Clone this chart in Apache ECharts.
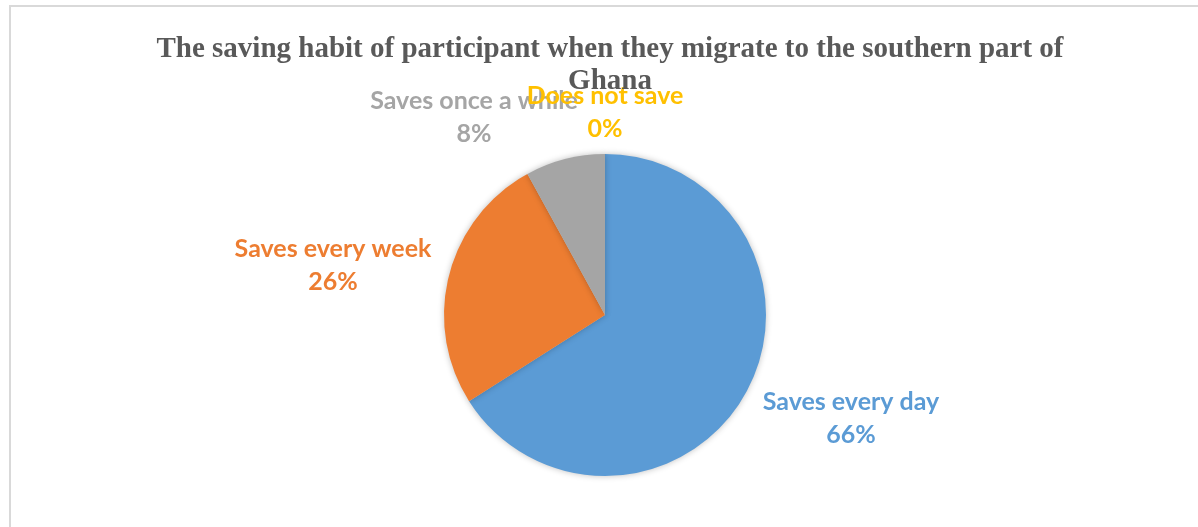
<!DOCTYPE html>
<html>
<head>
<meta charset="utf-8">
<script src="https://cdn.jsdelivr.net/npm/echarts@6/dist/echarts.min.js"></script>
<style>
  html, body { margin: 0; padding: 0; background: #fff; }
  #main { width: 1198px; height: 527px; }
</style>
</head>
<body>
<div id="main"></div>
<script>
// data
var categories = ['Saves every day', 'Saves every week', 'Saves once a while', 'Does not save'];
var percents = [66, 26, 8, 0];
var colors = ['#5B9BD5', '#ED7D31', '#A5A5A5', '#FFC000'];

// where each label block sits (centre of the two-line text)
var labelSpots = [[851, 418], [333, 265], [474, 117], [605, 112]];

var myChart = echarts.init(document.getElementById('main'));

var pieData = categories.map(function (name, i) {
    return {
        name: name,
        value: percents[i],
        itemStyle: { color: colors[i] },
        label: { color: colors[i] }
    };
});

option = {
    backgroundColor: '#fff',
    animation: false,
    title: {
        text: 'The saving habit of participant when they migrate to the southern part of\nGhana',
        left: 605,
        top: 29,
        textAlign: 'center',
        textStyle: {
            fontFamily: 'Liberation Serif',
            fontWeight: 'bold',
            fontSize: 29,
            lineHeight: 32,
            color: '#595959'
        }
    },
    graphic: [
        {
            type: 'rect',
            shape: { x: 10, y: 6, width: 1300, height: 700 },
            style: { fill: 'none', stroke: '#d9d9d9', lineWidth: 2 },
            silent: true
        }
    ],
    series: [
        {
            type: 'pie',
            center: [605, 315],
            radius: 161,
            startAngle: 90,
            clockwise: true,
            data: pieData,
            itemStyle: {
                borderWidth: 0,
                shadowBlur: 6,
                shadowColor: 'rgba(0,0,0,0.25)'
            },
            label: {
                show: true,
                position: 'outside',
                formatter: '{b}\n{c}%',
                fontFamily: 'Lato',
                fontWeight: 'bold',
                fontSize: 25,
                lineHeight: 33,
                align: 'center'
            },
            labelLine: { show: false },
            labelLayout: function (params) {
                var p = labelSpots[params.dataIndex];
                return {
                    x: p[0],
                    y: p[1],
                    align: 'center',
                    verticalAlign: 'middle'
                };
            },
            emphasis: { disabled: true }
        }
    ]
};

myChart.setOption(option);
</script>
</body>
</html>
